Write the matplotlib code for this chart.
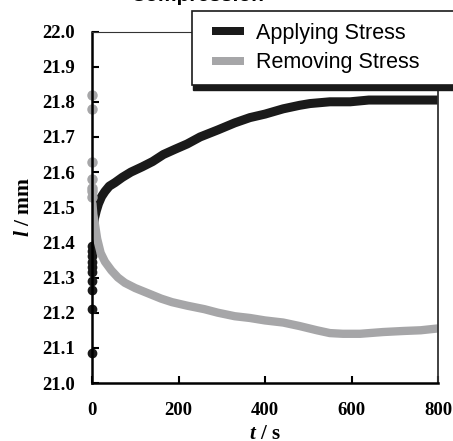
import numpy as np
import matplotlib
matplotlib.use("Agg")
import matplotlib.pyplot as plt
from matplotlib.patches import Rectangle
from matplotlib.lines import Line2D
from matplotlib.path import Path

plt.rcParams['mathtext.fontset'] = 'custom'
plt.rcParams['mathtext.it'] = 'Liberation Serif:italic:bold'
plt.rcParams['mathtext.rm'] = 'Liberation Serif:bold'

# applying stress: readings stacked at t = 0, then the curve
apply_t0 = [21.085, 21.21, 21.265, 21.29, 21.315, 21.33, 21.345, 21.36, 21.375, 21.39]
apply_t = [1, 3, 6, 10, 15, 22, 30, 40, 53, 70, 90, 116, 140, 165, 192, 220, 250,
           291, 330, 365, 400, 442, 480, 504, 550, 597, 640, 673, 720, 760, 798]
apply_l = [21.40, 21.44, 21.47, 21.49, 21.51, 21.53, 21.545, 21.56, 21.57, 21.585,
           21.60, 21.615, 21.63, 21.65, 21.665, 21.68, 21.70, 21.72, 21.74, 21.755,
           21.765, 21.78, 21.79, 21.795, 21.80, 21.80, 21.805, 21.805, 21.805,
           21.805, 21.805]

# removing stress
remove_t0 = [21.818, 21.78, 21.63, 21.58, 21.555, 21.545, 21.53]
remove_t = [1, 3, 7, 12, 20, 30, 45, 60, 76, 100, 130, 160, 185, 220, 260, 291, 330,
            365, 400, 442, 480, 520, 550, 580, 620, 673, 720, 760, 798]
remove_l = [21.51, 21.48, 21.45, 21.41, 21.37, 21.345, 21.32, 21.30, 21.285, 21.27,
            21.255, 21.24, 21.23, 21.22, 21.21, 21.20, 21.19, 21.185, 21.178, 21.172,
            21.162, 21.15, 21.142, 21.14, 21.14, 21.145, 21.148, 21.15, 21.155]

labels = ['Applying Stress', 'Removing Stress']
x_ticks = [0, 200, 400, 600, 800]
y_ticks = np.round(np.arange(21.0, 22.01, 0.1), 1)

black = '#1a1a1a'
grey = '#a6a6a8'

W, H = 453, 441
fig = plt.figure(figsize=(W / 100, H / 100), dpi=100)
ax = fig.add_axes([92 / W, 1 - 383 / H, (438 - 92) / W, (383 - 31.5) / H])

ax.plot(apply_t, apply_l, color=black, lw=6.5, solid_capstyle='round')
ax.plot(np.zeros(len(apply_t0)), apply_t0, 'o', color=black, ms=6, clip_on=False)
ax.plot(remove_t, remove_l, color=grey, lw=6, solid_capstyle='round')
ax.plot(np.zeros(len(remove_t0)), remove_t0, 'o', color=grey, ms=6.5, clip_on=False)

ax.set_xlim(0, 800)
ax.set_ylim(21.0, 22.0)
ax.set_xticks(x_ticks)
ax.set_yticks(y_ticks)
ax.set_yticklabels([f'{v:.1f}' for v in y_ticks])
ax.tick_params(direction='in', length=5, width=1.5, labelsize=13.5, pad=14)
ax.tick_params(axis='y', pad=12)
for lab in ax.get_xticklabels() + ax.get_yticklabels():
    lab.set_fontfamily('Liberation Serif')
    lab.set_fontweight('bold')

ax.spines['left'].set_linewidth(1.8)
ax.spines['bottom'].set_linewidth(1.8)
ax.spines['top'].set_linewidth(0.8)
ax.spines['top'].set_color('#333333')
ax.spines['right'].set_linewidth(1.3)
ax.spines['right'].set_color('#333333')

ax.set_xlabel('$t$ / s', fontsize=15, fontfamily='Liberation Serif', fontweight='bold', labelpad=3)
ax.set_ylabel('$l$ / mm', fontsize=15.5, fontfamily='Liberation Serif', fontweight='bold', labelpad=6)

# legend: short wide bars as handles, box with a shadow running past the right edge
bar = Path([[-2, -0.5], [2, -0.5], [2, 0.5], [-2, 0.5], [-2, -0.5]], closed=True)
handles = [Line2D([], [], ls='none', marker=bar, ms=23, color=black, mew=0),
           Line2D([], [], ls='none', marker=bar, ms=23, color=grey, mew=0)]
leg = ax.legend(handles, labels, loc='upper left', bbox_to_anchor=(192 / W, 1 - 85 / H, 0.6, 74 / H),
                bbox_transform=fig.transFigure, mode='expand', numpoints=1,
                prop={'family': 'Liberation Sans', 'size': 15.5}, frameon=True, fancybox=False,
                framealpha=1, handlelength=2.2, handletextpad=0.2, borderpad=0.55,
                labelspacing=0.4, borderaxespad=0)
leg.get_frame().set_edgecolor(black)
leg.get_frame().set_linewidth(1.2)
leg.set_zorder(6)
shadow = Rectangle((193 / W, 1 - 90 / H), 1.0, 70 / H, transform=fig.transFigure,
                   color=black, zorder=5, clip_on=False)
ax.add_artist(shadow)

fig.text(130 / W, 1 - 1 / H, 'Compression', fontsize=15, fontweight='bold',
         fontfamily='Liberation Sans', ha='left', va='baseline')

fig.savefig('out.png', dpi=100)
